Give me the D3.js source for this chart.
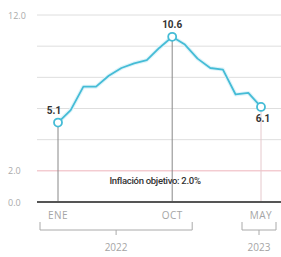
<!DOCTYPE html>
<html><head><meta charset="utf-8">
<script src="https://cdn.jsdelivr.net/npm/d3@7"></script>
<style>
html,body{margin:0;padding:0;background:#fff;}
svg{display:block;}
</style></head>
<body>
<script>
const months = ["ENE","FEB","MAR","ABR","MAY","JUN","JUL","AGO","SEP","OCT","NOV","DIC","ENE","FEB","MAR","ABR","MAY"];
const values = [5.1,5.9,7.4,7.4,8.1,8.6,8.9,9.1,9.9,10.6,10.1,9.2,8.6,8.5,6.9,7.0,6.1];
const gridTicks = [0,2,4,6,8,10,12];
const yLabels = [0,2,12];
const monthLabelIdx = [0,9,16];
const highlightIdx = [0,9,16];
const years = ["2022","2023"];
const target = 2.0;
const targetText = "Inflación objetivo: 2.0%";

const W=281,H=257;
const svg=d3.select("body").append("svg").attr("width",W).attr("height",H);
const x=d3.scaleLinear().domain([0,16]).range([58,261]);
const y=d3.scaleLinear().domain([0,12]).range([202,15]);
const gridX0=37;

svg.selectAll("line.grid").data(gridTicks.filter(d=>d!==0&&d!==target)).enter().append("line")
  .attr("x1",gridX0).attr("x2",W).attr("y1",d=>y(d)).attr("y2",d=>y(d))
  .attr("stroke","#dedede").attr("stroke-width",1);
svg.append("line").attr("x1",gridX0).attr("x2",W).attr("y1",y(target)).attr("y2",y(target))
  .attr("stroke","#eeb3bb").attr("stroke-width",1);
svg.selectAll("text.yl").data(yLabels).enter().append("text")
  .attr("x",8).attr("y",d=>y(d)+3.5).text(d=>d.toFixed(1))
  .attr("font-family","Open Sans, sans-serif").attr("font-size",9).attr("fill","#aaa");

svg.selectAll("line.drop").data(highlightIdx).enter().append("line")
  .attr("x1",d=>x(d)).attr("x2",d=>x(d)).attr("y1",d=>y(values[d])).attr("y2",y(0))
  .attr("stroke",(d,i)=>i===2?"#e6c8cc":"#888").attr("stroke-width",1);

svg.append("text").attr("x",155).attr("y",y(target)+13).attr("text-anchor","middle")
  .attr("font-family","Roboto, sans-serif").attr("font-weight",500).attr("font-size",9.5).attr("fill","#333")
  .attr("letter-spacing","-0.3").text(targetText);

svg.append("line").attr("x1",gridX0).attr("x2",W).attr("y1",y(0)).attr("y2",y(0))
  .attr("stroke","#555").attr("stroke-width",2);

const line=d3.line().x((d,i)=>x(i)).y(d=>y(d));
svg.append("path").datum(values).attr("d",line).attr("fill","none")
  .attr("stroke","#dff4fa").attr("stroke-width",4).attr("stroke-linejoin","round");
svg.append("path").datum(values).attr("d",line).attr("fill","none")
  .attr("stroke","#45bcd6").attr("stroke-width",1.8).attr("stroke-linejoin","round");

svg.selectAll("circle.pt").data(highlightIdx).enter().append("circle")
  .attr("cx",d=>x(d)).attr("cy",d=>y(values[d])).attr("r",4)
  .attr("fill","#fff").attr("stroke","#45bcd6").attr("stroke-width",1.8);

const lblOff=[[-4,-9],[0,-9],[2,15]];
svg.selectAll("text.vl").data(highlightIdx).enter().append("text")
  .attr("x",(d,i)=>x(d)+lblOff[i][0]).attr("y",(d,i)=>y(values[d])+lblOff[i][1])
  .attr("text-anchor","middle").attr("font-family","Roboto, sans-serif").attr("font-weight","bold")
  .attr("font-size",10).attr("fill","#333").text(d=>values[d].toFixed(1));

svg.selectAll("text.ml").data(monthLabelIdx).enter().append("text")
  .attr("x",d=>x(d)).attr("y",219).attr("text-anchor","middle")
  .attr("font-family","Open Sans, sans-serif").attr("font-size",10).attr("fill","#a5a5a5")
  .attr("letter-spacing","0.5").text(d=>months[d]);

const brackets=[[x(0)-18,x(9)+20],[x(16)-19,x(16)+15]];
const bg=svg.append("g").attr("stroke","#aaa").attr("fill","none").attr("stroke-width",1);
brackets.forEach((b,i)=>{
  const cx=(b[0]+b[1])/2;
  bg.append("path").attr("d",`M${b[0]},222V230H${b[1]}V222M${cx},230V235`);
  svg.append("text").attr("x",cx).attr("y",251).attr("text-anchor","middle")
    .attr("font-family","Open Sans, sans-serif").attr("font-size",10).attr("fill","#a5a5a5")
    .text(years[i]);
});
</script>
</body></html>
